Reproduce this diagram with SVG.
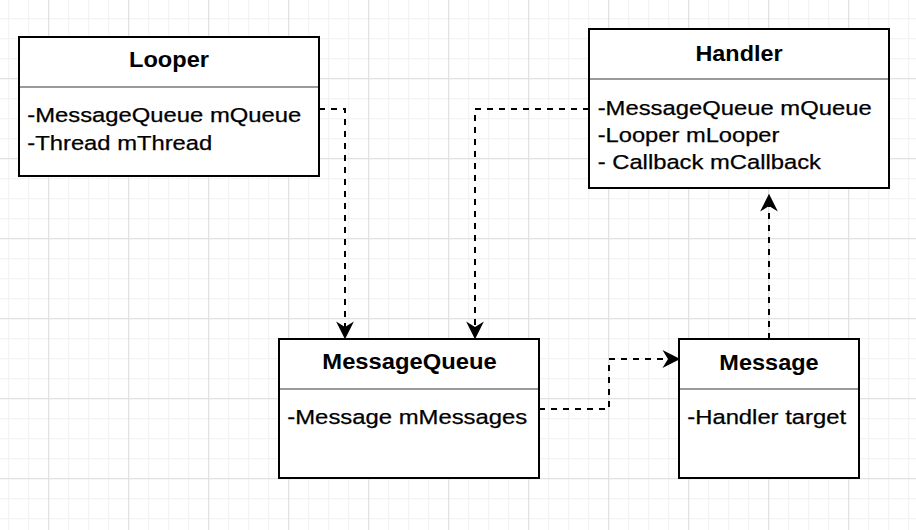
<svg xmlns="http://www.w3.org/2000/svg" width="916" height="530" viewBox="0 0 916 530">
<style>
.box{fill:#ffffff;stroke:#000000;stroke-width:2}
.sep{stroke:#9a9a9a;stroke-width:2}
.title{font-family:"Liberation Sans",Arial,Helvetica,sans-serif;font-size:22px;font-weight:bold;fill:#000;text-anchor:middle}
.attr{font-family:"Liberation Sans",Arial,Helvetica,sans-serif;font-size:20.5px;fill:#000;stroke:#000;stroke-width:0.25}
.conn{fill:none;stroke:#000;stroke-width:2;stroke-dasharray:6 6}
</style>
<defs>
<pattern id="gMinor" patternUnits="userSpaceOnUse" x="8" y="18" width="20" height="20"><path d="M0.5 0V20M0 0.5H20" stroke="#f3f3f3" stroke-width="1.5"/></pattern>
<pattern id="gMajor" patternUnits="userSpaceOnUse" x="48" y="78" width="80" height="80"><path d="M0.5 0V80M0 0.5H80" stroke="#e2e2e2" stroke-width="1.5"/></pattern>
<marker id="arrow" markerUnits="userSpaceOnUse" orient="auto" markerWidth="20" markerHeight="20" refX="0" refY="0" viewBox="-6 -9 18 18" overflow="visible">
<path d="M11 0L-5 -8L0 0L-5 8Z" fill="#000" stroke="none"/>
</marker>
</defs>
<rect width="916" height="530" fill="#ffffff"/>
<rect width="916" height="530" fill="url(#gMinor)"/>
<rect width="916" height="530" fill="url(#gMajor)"/>

<g id="connectors">
<path class="conn" d="M319 109H345V327" marker-end="url(#arrow)"/>
<path class="conn" d="M589 109H475V327" marker-end="url(#arrow)"/>
<path class="conn" d="M539 409H609V359H668" marker-end="url(#arrow)"/>
<path class="conn" d="M769 339V206" marker-end="url(#arrow)"/>
</g>

<g id="looper">
<rect class="box" x="19" y="37" width="300" height="139"/>
<line class="sep" x1="20" y1="87" x2="318" y2="87"/>
<text class="title" x="169" y="66.5" textLength="80" lengthAdjust="spacingAndGlyphs">Looper</text>
<text class="attr" x="27.3" y="121.5" textLength="274" lengthAdjust="spacingAndGlyphs">-MessageQueue mQueue</text>
<text class="attr" x="27.3" y="149.5" textLength="185" lengthAdjust="spacingAndGlyphs">-Thread mThread</text>
</g>

<g id="handler">
<rect class="box" x="589" y="29" width="300" height="159"/>
<line class="sep" x1="590" y1="79" x2="888" y2="79"/>
<text class="title" x="739" y="61" textLength="87" lengthAdjust="spacingAndGlyphs">Handler</text>
<text class="attr" x="597.7" y="114.5" textLength="274" lengthAdjust="spacingAndGlyphs">-MessageQueue mQueue</text>
<text class="attr" x="597.7" y="141.5" textLength="181.7" lengthAdjust="spacingAndGlyphs">-Looper mLooper</text>
<text class="attr" x="597.7" y="168.5" textLength="223.3" lengthAdjust="spacingAndGlyphs">- Callback mCallback</text>
</g>

<g id="messagequeue">
<rect class="box" x="279" y="339" width="260" height="139"/>
<line class="sep" x1="280" y1="389" x2="538" y2="389"/>
<text class="title" x="409.5" y="369" textLength="174.3" lengthAdjust="spacingAndGlyphs">MessageQueue</text>
<text class="attr" x="287.3" y="424" textLength="240" lengthAdjust="spacingAndGlyphs">-Message mMessages</text>
</g>

<g id="message">
<rect class="box" x="679" y="339" width="180" height="139"/>
<line class="sep" x1="680" y1="389" x2="858" y2="389"/>
<text class="title" x="769" y="370" textLength="99.3" lengthAdjust="spacingAndGlyphs">Message</text>
<text class="attr" x="687.3" y="424" textLength="158.7" lengthAdjust="spacingAndGlyphs">-Handler target</text>
</g>
</svg>
